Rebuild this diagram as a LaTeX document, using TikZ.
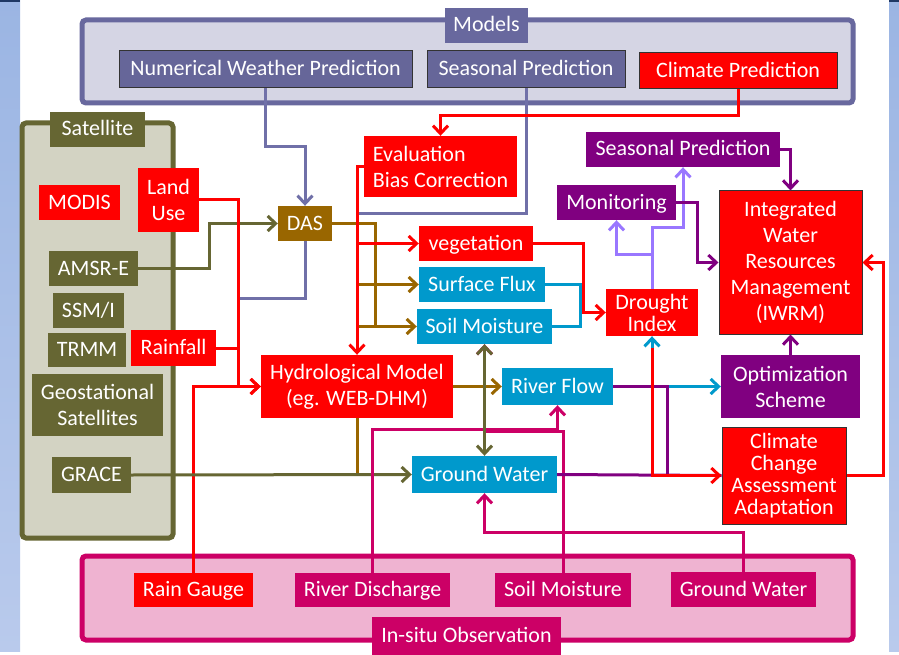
\documentclass[tikz,border=0pt]{standalone}
\usepackage{fontspec}
\setmainfont{Carlito}
\usetikzlibrary{arrows.meta}
\definecolor{stripA}{RGB}{155,181,227}
\definecolor{stripB}{RGB}{185,202,236}
\definecolor{navy}{RGB}{31,56,100}
\definecolor{slate}{RGB}{104,104,158}
\definecolor{slatebox}{RGB}{102,102,153}
\definecolor{slateln}{RGB}{112,112,168}
\definecolor{modfill}{RGB}{213,213,228}
\definecolor{olive}{RGB}{102,102,51}
\definecolor{satfill}{RGB}{211,211,195}
\definecolor{ochre}{RGB}{153,102,0}
\definecolor{sky}{RGB}{0,153,204}
\definecolor{plum}{RGB}{128,0,128}
\definecolor{lilac}{RGB}{153,119,255}
\definecolor{rose}{RGB}{204,0,102}
\definecolor{rosefill}{RGB}{239,179,209}
\definecolor{hot}{RGB}{255,0,0}
\begin{document}
\begin{tikzpicture}[x=1pt,y=-1pt,>={Straight Barb[length=8pt,width=15pt]},
 every node/.style={font=\fontsize{22}{26}\selectfont,text=white,inner sep=0pt,align=center},
 box/.style={fill=#1},
 wh/.style 2 args={minimum width=#1,minimum height=#2},
 oneline/.style={text height=16.5pt,text depth=3.5pt},
 edged/.style={draw=black!80,line width=1pt},
 frame/.style 2 args={draw=#1,fill=#2,line width=5pt,rounded corners=4pt},
 wire/.style={line width=3pt,draw=#1}]
 % background and side strips
 \fill[white] (0,0) rectangle (899,651);
 \shade[top color=stripA,bottom color=stripB] (0,0) rectangle (20,651);
 \shade[top color=stripA,bottom color=stripB] (889,0) rectangle (899,651);
 \fill[navy] (0,0) rectangle (20,2);
 \fill[navy] (889,0) rectangle (899,2);
 % groups
 \node[frame={slate}{modfill},wh={771}{83}] (models) at (467.5,61.5) {};
 \node[frame={olive}{satfill},wh={151}{415}] (sat) at (97.5,330.5) {};
 \node[frame={rose}{rosefill},wh={771}{84}] (insitu) at (467.5,598) {};
 \node[box=slate,oneline,wh={83}{35}] (modtab) at (486.5,25.5) {Models};
 \node[box=olive,oneline,wh={95}{35}] (sattab) at (97.5,129.5) {Satellite};
 \node[box=rose,oneline,wh={189}{38}] (insitutab) at (466.5,636) {In-situ Observation};
 % models
 \node[box=slatebox,oneline,edged,wh={293}{37}] (nwp) at (265.5,69.5) {Numerical Weather Prediction};
 \node[box=slatebox,oneline,edged,wh={198}{37}] (seasm) at (526,69.5) {Seasonal Prediction};
 \node[box=hot,oneline,edged,wh={198}{36}] (climp) at (738,71) {Climate Prediction};
 % satellites
 \node[box=hot,oneline,wh={81}{35}] (modis) at (79.5,202.5) {MODIS};
 \node[box=hot,wh={61}{64}] (landuse) at (168.5,200) {Land\\Use};
 \node[box=olive,oneline,wh={89}{35}] (amsr) at (93.5,268.5) {AMSR-E};
 \node[box=olive,oneline,wh={71}{35}] (ssmi) at (88.5,310.5) {SSM/I};
 \node[box=olive,oneline,wh={78}{34}] (trmm) at (87,350) {TRMM};
 \node[box=hot,oneline,wh={85}{36}] (rain) at (173.5,348) {Rainfall};
 \node[box=olive,wh={131}{62}] (geo) at (97.5,405) {Geostational\\Satellites};
 \node[box=olive,oneline,wh={79}{36}] (grace) at (91.5,475) {GRACE};
 % centre
 \node[box=ochre,oneline,wh={54}{35}] (das) at (305,223.5) {DAS};
 \node[box=hot,wh={153}{61},align=left] (eval) at (440.5,166.5) {Evaluation\\Bias Correction};
 \node[box=hot,oneline,wh={114}{35}] (veg) at (476,243.5) {vegetation};
 \node[box=sky,oneline,wh={126}{35}] (surf) at (482,284.5) {Surface Flux};
 \node[box=sky,oneline,wh={135}{35}] (soilm) at (484.5,326.5) {Soil Moisture};
 \node[box=hot,wh={192}{63}] (hydro) at (357,386.5) {Hydrological Model\\(eg. WEB-DHM)};
 \node[box=sky,oneline,wh={111}{37}] (river) at (557.5,386.5) {River Flow};
 \node[box=sky,oneline,wh={145}{37}] (groundw) at (484.5,474.5) {Ground Water};
 % right
 \node[box=hot,wh={92}{47},font=\fontsize{22}{22}\selectfont] (drought) at (652,312.5) {Drought\\Index};
 \node[box=plum,oneline,wh={119}{35}] (monit) at (616.5,202.5) {Monitoring};
 \node[box=plum,oneline,wh={194}{35}] (seasp) at (683,149.5) {Seasonal Prediction};
 \node[box=hot,edged,wh={143}{143}] (iwrm) at (790.5,262.5)
   {Integrated\\Water\\Resources\\Management\\(IWRM)};
 \node[box=plum,wh={139}{63}] (optim) at (790.5,386.5) {Optimization\\Scheme};
 \node[box=hot,edged,wh={124}{97},font=\fontsize{22}{22}\selectfont] (ccaa) at (784,475.5)
   {Climate\\Change\\Assessment\\Adaptation};
 % in-situ
 \node[box=hot,oneline,wh={119}{34}] (gauge) at (193.5,590) {Rain Gauge};
 \node[box=rose,oneline,wh={155}{34}] (discharge) at (372.5,590) {River Discharge};
 \node[box=rose,oneline,wh={136}{34}] (soilmi) at (563,590) {Soil Moisture};
 \node[box=rose,oneline,wh={145}{35}] (groundwi) at (743.5,589.5) {Ground Water};
 % connectors
 \coordinate (seasend) at (357,213);
 \coordinate (dasend) at (238,298);
 \draw[wire=slateln,->] (nwp.south) -- ++(0,58) -| (das.north);
 \draw[wire=slateln] (seasm.south) |- (seasend);
 \draw[wire=slateln] (das.south) |- (dasend);
 \draw[wire=olive,->] (amsr.east) -- ++(71,0) |- (das.west);
 \draw[wire=ochre] (das.east) -- ++(43,0) coordinate (dk) -- (dk |- soilm.west);
 \draw[wire=ochre,->] (hydro.north |- surf.west) -- (surf.west);
 \draw[wire=ochre,->] (hydro.north |- soilm.west) -- (soilm.west);
 \draw[wire=hot,->] (climp.south) -- ++(0,26) -| (eval.north);
 \draw[wire=hot,->] (eval.west) -| (hydro.north);
 \draw[wire=hot,->] (hydro.north |- veg.west) -- (veg.west);
 \draw[wire=hot,->] (landuse.east) -- ++(39,0) |- (hydro.west);
 \draw[wire=hot] (rain.east) -- ++(22,0);
 \draw[wire=hot,->] (gauge.north) |- (hydro.west);
 \draw[wire=ochre] (hydro.south) -- (hydro.south |- groundw.west);
 \draw[wire=olive,->] (grace.east) -- (groundw.west);
 \draw[wire=ochre,->] (hydro.east) -- (river.west);
 \draw[wire=rose,->] (soilmi.north) -- ++(0,-141) -| (soilm.south);
 \draw[wire=rose,->] (discharge.north) -- ++(0,-143) -| (river.south);
 \draw[wire=rose,->] (groundwi.north) -- ++(0,-39) -| (groundw.south);
 \draw[wire=olive,<->] (soilm.south) -- (groundw.north);
 \draw[wire=sky] (surf.east) -- ++(35,0) |- (soilm.east);
 \draw[wire=hot,->] (veg.east) -- ++(50,0) |- (drought.west);
 \draw[wire=sky,->] (river.east) -- (optim.west);
 \draw[wire=sky,->] (river.east) -| (drought.south);
 \draw[wire=plum] (river.east) -- ++(54,0) -- ++(0,88);
 \draw[wire=plum] (groundw.east) -- (ccaa.west);
 \draw[wire=hot,->] ([yshift=-12pt]drought.south) |- (ccaa.west);
 \draw[wire=lilac,->] (drought.north) -- ++(0,-61) -| (seasp.south);
 \draw[wire=lilac,->] (drought.north) -- ++(0,-34) -| (monit.south);
 \draw[wire=plum,->] (monit.east) -- ++(21,0) |- (iwrm.west);
 \draw[wire=plum,->] (seasp.east) -| (iwrm.north);
 \draw[wire=plum,->] (optim.north) -- (iwrm.south);
 \draw[wire=hot,->] (ccaa.east) -- ++(37,0) |- (iwrm.east);
 \useasboundingbox (0,0) rectangle (899,651);
\end{tikzpicture}
\end{document}
